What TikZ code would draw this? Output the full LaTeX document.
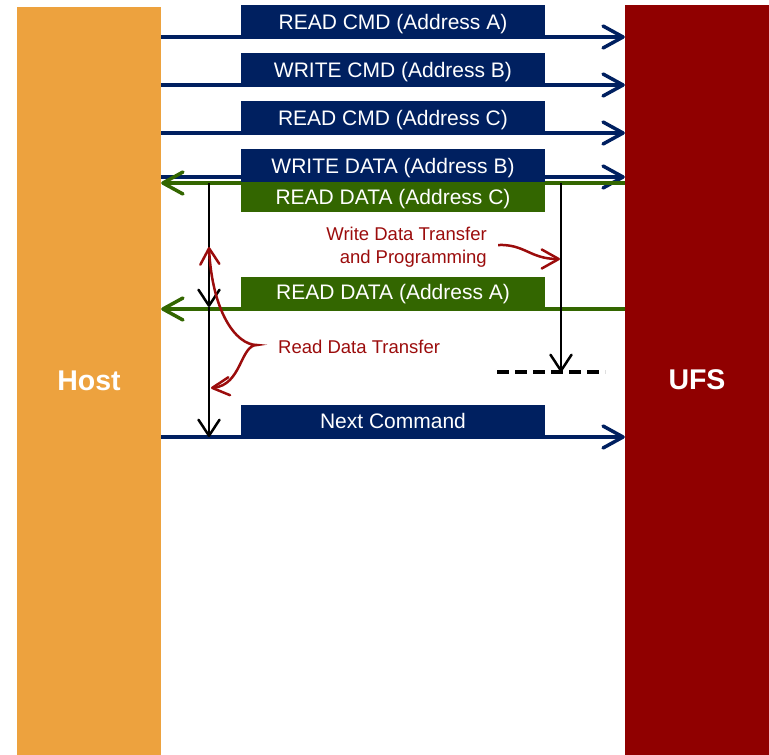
\documentclass[tikz,border=0pt]{standalone}
\usepackage{fontspec}
\setmainfont{Liberation Sans}
\usetikzlibrary{arrows.meta}

\definecolor{hostorange}{RGB}{237,162,62}
\definecolor{ufsred}{RGB}{144,0,0}
\definecolor{cmdblue}{RGB}{0,32,96}
\definecolor{datagreen}{RGB}{51,102,0}
\definecolor{notered}{RGB}{155,12,12}

\tikzset{
  bar/.style={fill=#1, draw=none, inner sep=0pt, text=white,
    font=\fontsize{28.5}{30}\selectfont\bfseries},
  msgbox/.style={fill=#1, draw=none, inner sep=0pt, text=white, text depth=0pt,
    minimum width=304pt, font=\fontsize{21}{24}\selectfont},
  cmdline/.style={draw=cmdblue, line width=3.5pt,
    -{Straight Barb[length=20pt,width=22pt,line width=3.5pt,round]}},
  dataline/.style={draw=datagreen, line width=3.5pt,
    -{Straight Barb[length=20pt,width=22pt,line width=3.5pt,round]}},
  timeline/.style={draw=black, line width=2.5pt,
    -{Straight Barb[length=16pt,width=21pt,line width=2.5pt,round]}},
  noteline/.style={draw=notered, line width=2.5pt,
    {Straight Barb[length=16pt,width=19pt,line width=2.5pt,round]}-{Straight Barb[length=17pt,width=18pt,line width=2.5pt,round]}},
  noteline1/.style={draw=notered, line width=2.5pt,
    -{Straight Barb[length=17pt,width=19pt,line width=2.5pt,round]}},
  notetext/.style={text=notered, inner sep=0pt, font=\fontsize{18.5}{23}\selectfont},
}

\begin{document}
\begin{tikzpicture}[x=1pt,y=-1pt]
  \useasboundingbox (0,0) rectangle (769,755);

  % the two parties
  \node[bar=hostorange, minimum width=144pt, minimum height=748pt] (host) at (89,381) {Host};
  \node[bar=ufsred, minimum width=144pt, minimum height=750pt] (ufs) at (697,380) {UFS};

  % message lines
  \draw[cmdline]  (host.east |- 0,37)  -- (ufs.west |- 0,37);
  \draw[cmdline]  (host.east |- 0,85)  -- (ufs.west |- 0,85);
  \draw[cmdline]  (host.east |- 0,133) -- (ufs.west |- 0,133);
  \draw[cmdline]  (host.east |- 0,177) -- (ufs.west |- 0,177);
  \draw[dataline] (ufs.west |- 0,183)  -- (host.east |- 0,183);
  \draw[dataline] (ufs.west |- 0,309)  -- (host.east |- 0,309);
  \draw[cmdline]  (host.east |- 0,437) -- (ufs.west |- 0,437);

  % message labels
  \node[msgbox=cmdblue, minimum height=33pt] (rdcmda) at (393,21.5) {READ CMD (Address A)};
  \node[msgbox=cmdblue, minimum height=34pt] (wrcmdb) at (393,70) {WRITE CMD (Address B)};
  \node[msgbox=cmdblue, minimum height=34pt] (rdcmdc) at (393,118) {READ CMD (Address C)};
  \node[msgbox=cmdblue, minimum height=33pt] (wrdatb) at (393,165.5) {WRITE DATA (Address B)};
  \node[msgbox=datagreen, minimum height=30pt] (rddatc) at (393,197) {READ DATA (Address C)};
  \node[msgbox=datagreen, minimum height=30pt] (rddata) at (393,292) {READ DATA (Address A)};
  \node[msgbox=cmdblue, minimum height=32pt] (nextcmd) at (393,421) {Next Command};

  % timing lines
  \coordinate (la) at (209,183);
  \coordinate (lb) at (209,307);
  \coordinate (lc) at (209,437);
  \coordinate (ra) at (561,183);
  \coordinate (rb) at (561,372);
  \coordinate (da) at (497,372);
  \coordinate (db) at (605,372);
  \draw[timeline] (la) -- (lb);
  \draw[timeline] (lb) -- (lc);
  \draw[timeline] (ra) -- (rb);
  \draw[line width=3.5pt, dash pattern=on 12pt off 6pt] (da) -- (db);

  % notes
  \node[notetext, align=right, anchor=north east] (wnote) at (487,226.5)
    {Write Data Transfer\\and Programming};
  \coordinate (wa) at (498,245);
  \coordinate (wb) at (560,259);
  \draw[noteline1] (wa) .. controls (525,244) and (530,259) .. (wb);

  \node[notetext, anchor=base west] (rnote) at (278,353) {Read Data Transfer};
  \coordinate (bt) at (209,247);
  \coordinate (bm) at (257,345);
  \coordinate (bb) at (211,388);
  \draw[noteline] (bt) .. controls (212,310) and (235,345) .. (bm)
                       .. controls (240,345) and (242,385) .. (bb);
\end{tikzpicture}
\end{document}
